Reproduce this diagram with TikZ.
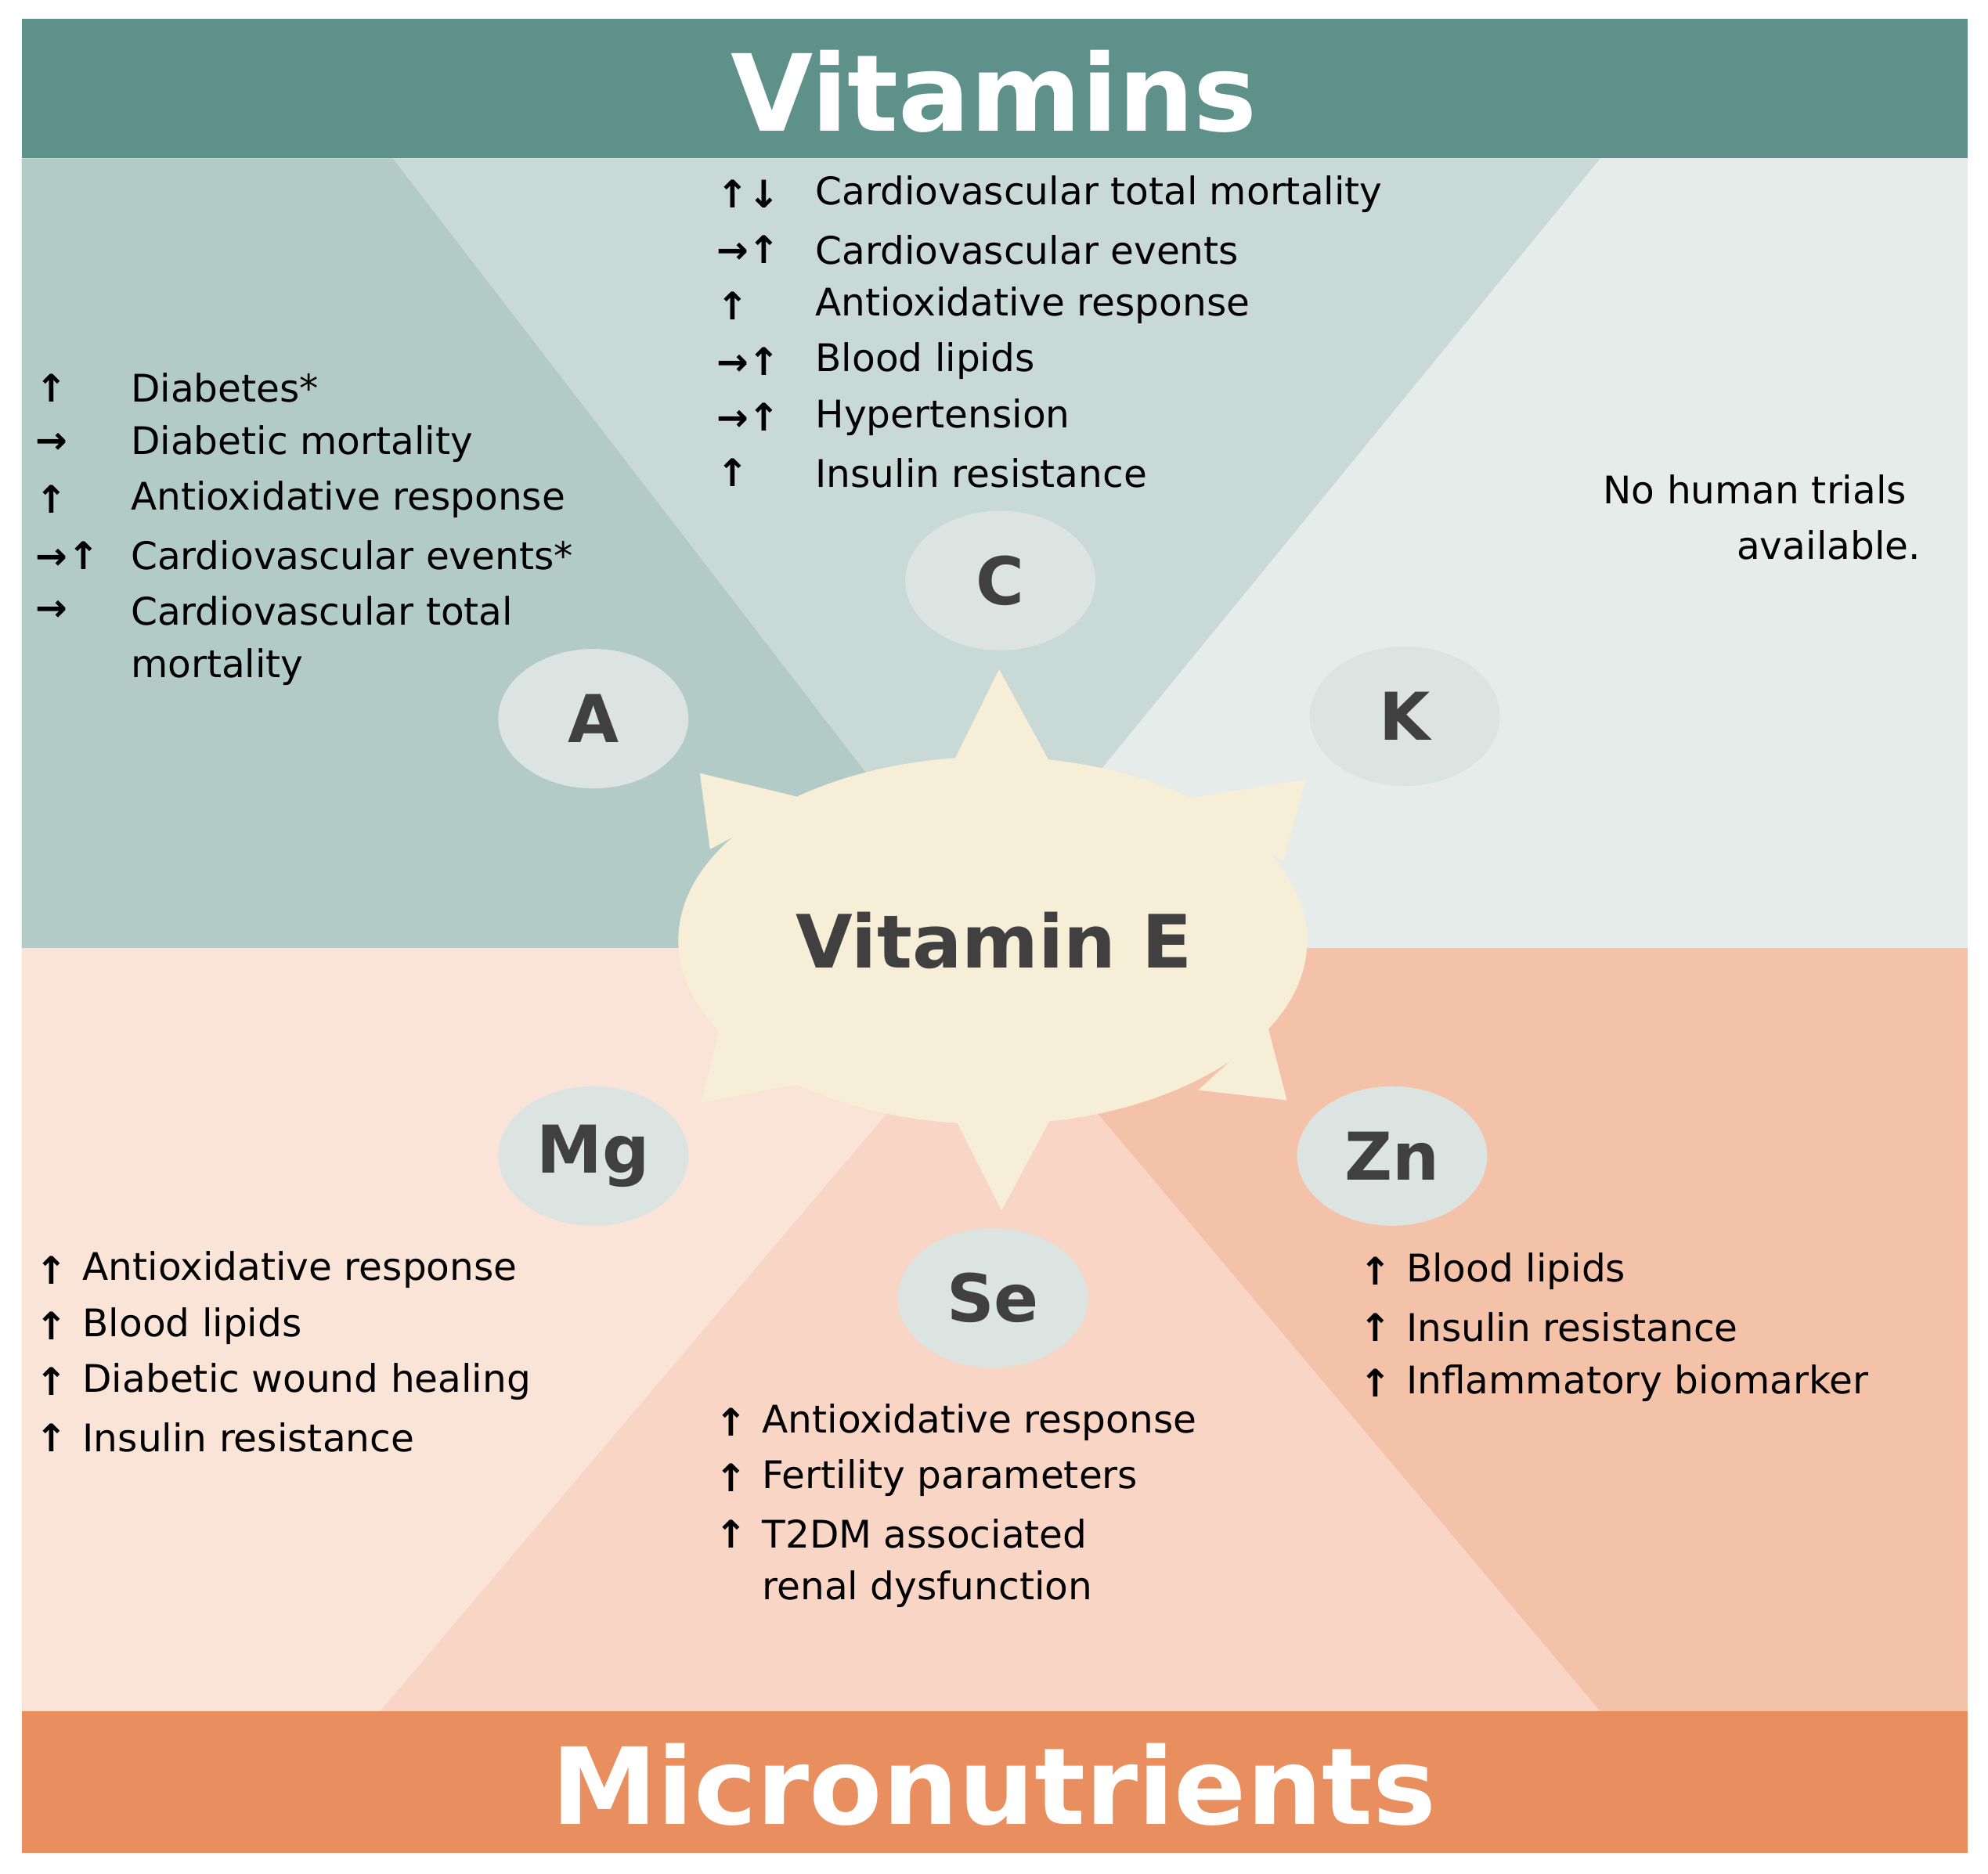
\documentclass[tikz,border=0pt]{standalone}
\usepackage{fontspec}
\usetikzlibrary{shapes.geometric}
\setmainfont{DejaVu Sans}
\definecolor{teal}{HTML}{5E9189}
\definecolor{regA}{HTML}{B3CBC7}
\definecolor{regC}{HTML}{C9DAD6}
\definecolor{regK}{HTML}{E5ECEA}
\definecolor{regMg}{HTML}{FAE3D7}
\definecolor{regSe}{HTML}{F8D5C5}
\definecolor{regZn}{HTML}{F4C2A8}
\definecolor{orng}{HTML}{E98E5E}
\definecolor{cream}{HTML}{F7EED8}
\definecolor{oval}{HTML}{DCE4E2}
\definecolor{dk}{HTML}{404040}
\begin{document}
\begin{tikzpicture}[x=1pt,y=-1pt,
  txt/.style={anchor=west,inner sep=0pt,font=\fontsize{30}{36}\selectfont},
  arr/.style={anchor=west,inner sep=0pt,font=\fontsize{30}{36}\selectfont\bfseries},
  lab/.style={ellipse,fill=oval,minimum width=150pt,minimum height=110pt,inner sep=0pt,font=\fontsize{52}{60}\selectfont\bfseries,text=dk},
  ban/.style={text=white,font=\fontsize{84}{90}\selectfont\bfseries}]
\useasboundingbox (0,0) rectangle (1568,1478);
\fill[white] (0,0) rectangle (1568,1478);
% regions
\fill[regK] (17,125) rectangle (1552,748);
\fill[regA] (17,125) -- (310,125) -- (772,725) -- (540,748) -- (17,748) -- cycle;
\fill[regC] (310,125) -- (1262,125) -- (772,725) -- cycle;
\fill[regZn] (17,748) rectangle (1552,1350);
\fill[regMg] (17,748) -- (783,748) -- (783,800) -- (300,1350) -- (17,1350) -- cycle;
\fill[regSe] (300,1350) -- (783,780) -- (1262,1350) -- cycle;
% banners
\fill[teal] (17,15) rectangle (1552,125);
\fill[orng] (17,1350) rectangle (1552,1462);
\node[ban] (tv) at (784,72) {Vitamins};
\node[ban] (tm) at (784,1408) {Micronutrients};
% star
\fill[cream] (750,605) -- (788,528) -- (830,605) -- cycle;
\fill[cream] (752,880) -- (790,955) -- (830,880) -- cycle;
\fill[cream] (560,670) -- (552,610) -- (635,630) -- cycle;
\fill[cream] (935,630) -- (1030,615) -- (1012,680) -- cycle;
\fill[cream] (568,810) -- (553,870) -- (630,855) -- cycle;
\fill[cream] (1000,810) -- (1015,868) -- (945,860) -- cycle;
\fill[cream] (783,742) ellipse [x radius=248, y radius=145];
\node[font=\fontsize{58}{64}\selectfont\bfseries,text=dk] (ve) at (784,742) {Vitamin E};
% labels
\node[lab] (A) at (468,567) {A};
\node[lab] (C) at (789,458) {C};
\node[lab] (K) at (1108,565) {K};
\node[lab] (Mg) at (468,912) {Mg};
\node[lab] (Se) at (783,1024) {Se};
\node[lab] (Zn) at (1098,912) {Zn};
% C list
\foreach \a/\t [count=\i] in {↑↓/Cardiovascular total mortality,→↑/Cardiovascular events,↑/Antioxidative response,→↑/Blood lipids,→↑/Hypertension,↑/Insulin resistance}{
  \node[arr] (ca\i) at (565,{153+44*(\i-1)}) {\a};
  \node[txt] (ct\i) at (643,{153+44*(\i-1)}) {\t};}
% A list
\foreach \a/\t [count=\i] in {↑/Diabetes*,→/Diabetic mortality,↑/Antioxidative response,→↑/Cardiovascular events*,→/Cardiovascular total}{
  \node[arr] (aa\i) at (28,{306+44*(\i-1)}) {\a};
  \node[txt] (at\i) at (103,{306+44*(\i-1)}) {\t};}
\node[txt] (at6) at (103,526) {mortality};
% K
\node[txt,anchor=east] (k1) at (1504,386) {No human trials};
\node[txt,anchor=east] (k2) at (1515,430) {available.};
% Mg
\foreach \t [count=\i] in {Antioxidative response,Blood lipids,Diabetic wound healing,Insulin resistance}{
  \node[arr] (ma\i) at (28,{1002+44*(\i-1)}) {↑};
  \node[txt] (mt\i) at (65,{1002+44*(\i-1)}) {\t};}
% Se
\foreach \t [count=\i] in {Antioxidative response,Fertility parameters,T2DM associated}{
  \node[arr] (sa\i) at (564,{1122+44*(\i-1)}) {↑};
  \node[txt] (st\i) at (601,{1122+44*(\i-1)}) {\t};}
\node[txt] (st4) at (601,1254) {renal dysfunction};
% Zn
\foreach \t [count=\i] in {Blood lipids,Insulin resistance,Inflammatory biomarker}{
  \node[arr] (za\i) at (1072,{1003+44*(\i-1)}) {↑};
  \node[txt] (zt\i) at (1109,{1003+44*(\i-1)}) {\t};}
\end{tikzpicture}
\end{document}
